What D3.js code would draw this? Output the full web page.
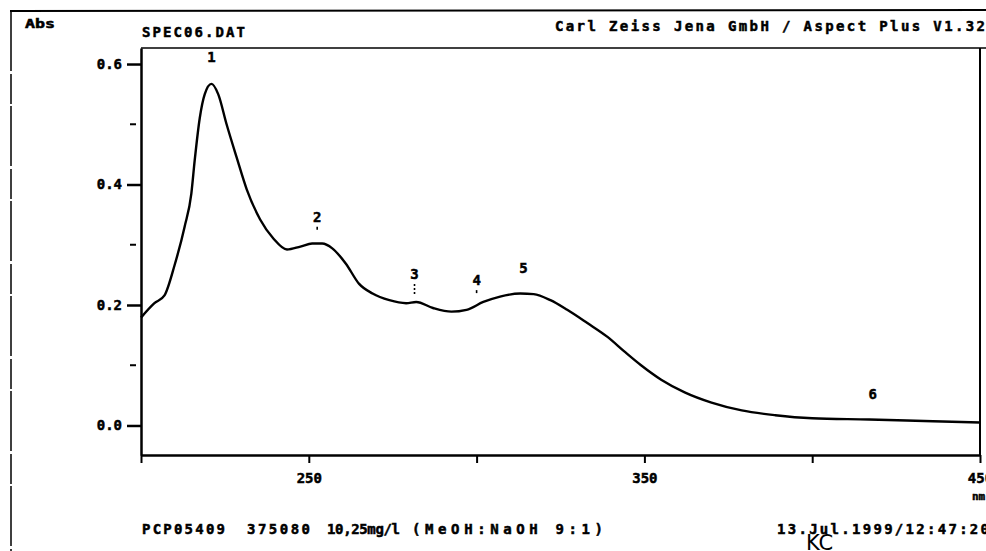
<!DOCTYPE html>
<html>
<head>
<meta charset="utf-8">
<script src="https://cdn.jsdelivr.net/npm/d3@7"></script>
<style>
  html, body { margin: 0; padding: 0; background: #fff; }
  svg { display: block; }
  text { font-family: "DejaVu Sans Mono", "Liberation Mono", monospace; font-weight: bold; fill: #000; }
</style>
</head>
<body>
<svg id="chart" width="986" height="551"></svg>
<script>
// ---- data ----
const wavelengths = [200, 204, 207, 210, 213, 215, 216, 217.5, 219, 221, 223, 225.5, 228.5, 231.5, 235.5,
  239.5, 243.5, 247.5, 251, 254, 257, 261, 265, 269, 274, 279, 282, 287, 292.5, 297, 302, 307, 313, 317,
  322, 327, 333, 339, 344, 349, 355, 362, 370, 379, 389, 400, 417, 436, 450];
const absorbance = [0.179, 0.203, 0.216, 0.266, 0.330, 0.385, 0.440, 0.510, 0.550, 0.567, 0.550, 0.500, 0.445,
  0.392, 0.342, 0.310, 0.292, 0.297, 0.302, 0.302, 0.294, 0.269, 0.235, 0.219, 0.208, 0.203, 0.205, 0.195,
  0.189, 0.192, 0.205, 0.214, 0.219, 0.218, 0.208, 0.192, 0.170, 0.147, 0.123, 0.100, 0.076, 0.055, 0.038,
  0.025, 0.017, 0.012, 0.010, 0.007, 0.005];

const xTicks = [200, 250, 300, 350, 400, 450];
const xTickLabels = [250, 350, 450];
const yMajorTicks = [0.0, 0.2, 0.4, 0.6];
const yMinorTicks = [0.1, 0.3, 0.5];

const peakLabels = ["1", "2", "3", "4", "5", "6"];
const peakNm = [221, 252.5, 281.5, 300, 314, 418];
const peakLabelAbs = [0.603, 0.338, 0.243, 0.233, 0.253, 0.044];

const headerLeft = "SPEC06.DAT";
const headerRight = "Carl Zeiss Jena GmbH / Aspect Plus V1.32";
const yUnit = "Abs";
const xUnit = "nm";
const footerParts = ["PCP05409", "375080", "10,25mg/l", "(MeOH:NaOH 9:1)"];
const footerDate = "13.Jul.1999/12:47:20";
const initials = "KC";

// ---- layout ----
const svg = d3.select("#chart");
const x = d3.scaleLinear().domain([200, 450]).range([141, 980]);
const y = d3.scaleLinear().domain([-0.049, 0.6266]).range([455, 48]);

// outer scan frame
svg.append("line").attr("x1", 10).attr("y1", 11).attr("x2", 986).attr("y2", 10)
  .attr("stroke", "#000").attr("stroke-width", 2);
svg.append("line").attr("x1", 11).attr("y1", 11).attr("x2", 11).attr("y2", 551)
  .attr("stroke", "#000").attr("stroke-width", 1.5).attr("stroke-dasharray", "60 3 30 2");

// plot top and right borders
svg.append("line").attr("x1", x.range()[0]).attr("x2", 986).attr("y1", y.range()[1]).attr("y2", y.range()[1])
  .attr("stroke", "#000").attr("stroke-width", 1.6);
svg.append("line").attr("x1", x.range()[1]).attr("x2", x.range()[1]).attr("y1", y.range()[1]).attr("y2", y.range()[0])
  .attr("stroke", "#000").attr("stroke-width", 2);

// x axis
const xAxis = d3.axisBottom(x).tickValues(xTicks).tickSize(8).tickSizeOuter(0).tickPadding(10)
  .tickFormat(d => xTickLabels.includes(d) ? String(d) : "");
const gx = svg.append("g").attr("transform", `translate(0,${y.range()[0]})`).call(xAxis);
gx.select(".domain").attr("stroke-width", 2.5);
gx.selectAll(".tick line").attr("stroke-width", 2);
gx.selectAll("text").style("font-family", '"DejaVu Sans Mono", monospace').style("font-weight", "bold")
  .style("font-size", "14px").attr("stroke", "#000").attr("stroke-width", 0.5);

// y axis
const yAxis = d3.axisLeft(y).tickValues(yMajorTicks).tickSize(14).tickSizeOuter(0).tickPadding(5)
  .tickFormat(d3.format(".1f"));
const gy = svg.append("g").attr("transform", `translate(${x.range()[0]},0)`).call(yAxis);
gy.select(".domain").attr("stroke-width", 2.5);
gy.selectAll(".tick line").attr("stroke-width", 2.5);
gy.selectAll("text").style("font-family", '"DejaVu Sans Mono", monospace').style("font-weight", "bold")
  .style("font-size", "14px").attr("stroke", "#000").attr("stroke-width", 0.5);

// y minor ticks (detached dashes)
svg.append("g").selectAll("line").data(yMinorTicks).join("line")
  .attr("x1", x.range()[0] - 11).attr("x2", x.range()[0] - 5)
  .attr("y1", d => y(d)).attr("y2", d => y(d))
  .attr("stroke", "#000").attr("stroke-width", 2);

// spectrum line
const line = d3.line().x(d => x(d[0])).y(d => y(d[1])).curve(d3.curveMonotoneX);
svg.append("path")
  .datum(wavelengths.map((w, i) => [w, absorbance[i]]))
  .attr("d", line).attr("fill", "none").attr("stroke", "#000").attr("stroke-width", 2.4)
  .attr("stroke-linejoin", "round");

// peak labels
svg.append("g").selectAll("text").data(peakLabels).join("text")
  .attr("x", (d, i) => x(peakNm[i]))
  .attr("y", (d, i) => y(peakLabelAbs[i]))
  .attr("text-anchor", "middle").style("font-size", "14px")
  .attr("stroke", "#000").attr("stroke-width", 0.5).text(d => d);

// small peak marks under some labels
const markIdx = [1, 2, 3];
svg.append("g").selectAll("line").data(markIdx).join("line")
  .attr("x1", i => x(peakNm[i])).attr("x2", i => x(peakNm[i]))
  .attr("y1", i => y(peakLabelAbs[i]) + 5).attr("y2", i => y(peakLabelAbs[i]) + (i === 2 ? 15 : 8))
  .attr("stroke", "#000").attr("stroke-width", 1.6).attr("stroke-dasharray", i => i === 2 ? "2 2" : null);

// header texts
const bold = sel => sel.attr("stroke", "#000").attr("stroke-width", 0.5);
svg.append("text").attr("x", 25).attr("y", 28).attr("textLength", 30).attr("lengthAdjust", "spacingAndGlyphs")
  .style("font-size", "12px").call(bold).text(yUnit);
svg.append("text").attr("x", 142).attr("y", 37).attr("textLength", 103).attr("lengthAdjust", "spacing")
  .style("font-size", "14px").call(bold).text(headerLeft);
svg.append("text").attr("x", 555).attr("y", 31).attr("textLength", 430).attr("lengthAdjust", "spacing")
  .style("font-size", "14px").call(bold).text(headerRight);

// x unit
svg.append("text").attr("x", 972).attr("y", 500).style("font-size", "11px").call(bold).text(xUnit);

// footer
const footerX = [[142, 83], [247, 63], [327, 73], [412, 191]];
svg.append("g").selectAll("text").data(footerParts).join("text")
  .attr("x", (d, i) => footerX[i][0]).attr("y", 534)
  .attr("textLength", (d, i) => footerX[i][1]).attr("lengthAdjust", "spacing")
  .style("font-size", "14px").call(bold).text(d => d);
svg.append("text").attr("x", 777).attr("y", 534).attr("textLength", 212).attr("lengthAdjust", "spacing")
  .style("font-size", "14px").call(bold).text(footerDate);
svg.append("text").attr("x", 806).attr("y", 550)
  .style("font-family", '"DejaVu Sans", sans-serif').style("font-weight", "normal").style("font-size", "21px")
  .text(initials);
</script>
</body>
</html>
